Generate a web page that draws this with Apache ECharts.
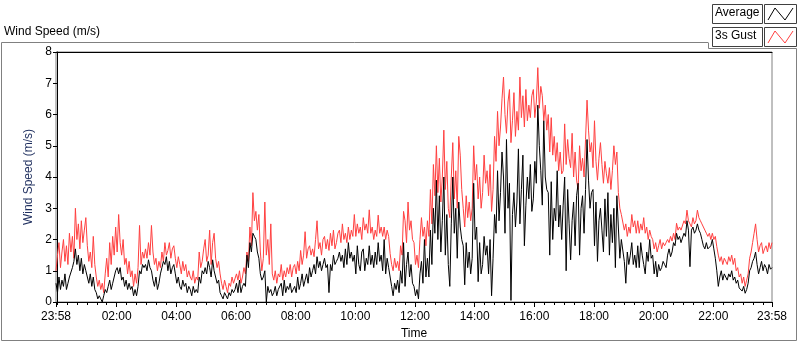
<!DOCTYPE html>
<html>
<head>
<meta charset="utf-8">
<script src="https://cdn.jsdelivr.net/npm/echarts@6/dist/echarts.min.js"></script>
<style>
  html, body { margin: 0; padding: 0; background: #fff; }
  #chart { width: 800px; height: 342px; }
</style>
</head>
<body>
<div id="chart"></div>
<script>
// 3s gust (red), one reading every 3 minutes from 23:58, 10 readings per half hour
const gust = [
  1.0, 1.5, 1.9, 1.1, 1.6, 2.0, 1.3, 1.8, 1.2, 2.2,
  1.6, 2.1, 1.4, 3.0, 2.0, 2.5, 1.7, 2.6, 1.9, 2.3,
  2.7, 1.8, 1.3, 1.6, 1.1, 2.1, 1.2, 0.8, 0.5, 0.7,
  0.4, 0.6, 0.3, 0.9, 1.4, 0.8, 1.9, 1.2, 2.1, 1.5,
  2.4, 1.6, 2.8, 1.9, 1.5, 2.0, 1.2, 1.4, 0.9, 1.3,
  0.8, 1.0, 0.5, 0.9, 0.6, 1.1, 2.45, 1.2, 1.6, 1.4,
  1.7, 1.4, 1.9, 1.5, 2.45, 1.6, 1.2, 1.4, 1.0, 1.3,
  1.1, 1.6, 1.3, 1.9, 1.5, 1.65, 1.9, 1.4, 1.7, 1.8,
  1.4, 1.1, 1.45, 1.2, 0.9, 1.3, 1.0, 1.2, 0.8, 1.0,
  0.8, 0.7, 1.0, 0.6, 0.8, 0.7, 1.6, 1.1, 1.3, 1.7,
  2.0, 1.3, 1.5, 2.3, 1.2, 1.9, 2.2, 1.4, 1.1, 1.3,
  0.9, 0.6, 0.4, 0.7, 0.5, 0.3, 0.6, 0.5, 0.8, 0.6,
  0.6, 0.9, 0.7, 1.0, 0.6, 0.8, 1.1, 0.9, 1.6, 1.3,
  2.4, 1.8, 3.5, 2.6, 2.9, 2.3, 2.8, 1.6, 1.0, 1.4,
  3.2, 1.5, 2.0, 1.2, 2.5, 0.9, 0.7, 1.0, 0.6, 0.9,
  0.8, 1.2, 0.7, 1.0, 0.8, 1.1, 0.9, 1.2, 0.8, 1.1,
  1.2, 0.9, 1.3, 1.0, 1.65, 1.2, 1.5, 2.25, 1.4, 1.7,
  1.8, 1.5, 1.7, 1.45, 2.0, 2.6, 1.7, 1.9, 1.5, 2.0,
  2.1, 1.7, 2.0, 1.65, 2.2, 1.8, 2.3, 1.7, 1.9, 2.2,
  2.3, 1.9, 2.5, 2.0, 2.2, 1.9, 2.4, 2.0, 2.3, 2.1,
  2.8, 2.1, 2.5, 2.2, 2.4, 2.0, 2.7, 2.3, 2.5, 2.2,
  2.95, 2.2, 2.4, 2.0, 2.3, 2.1, 2.78, 2.2, 2.4, 2.1,
  2.4, 2.0, 2.3, 2.1, 1.55, 1.2, 1.0, 1.4, 1.1, 1.3,
  1.0, 1.8, 1.5, 2.9, 2.6, 1.9, 3.2, 2.3, 2.6, 2.0,
  1.9, 1.2, 1.5, 1.1, 2.0, 2.7, 2.1, 2.4, 1.8, 2.6,
  2.1, 3.6, 2.5, 4.4, 3.4, 5.0, 3.5, 4.6, 3.2, 4.0,
  5.5, 3.6, 4.5, 3.0, 2.7, 4.0, 5.1, 3.3, 4.2, 3.0,
  5.3, 4.7, 3.6, 3.0, 2.4, 3.4, 2.7, 3.2, 2.6, 3.0,
  5.0, 3.9, 4.4, 3.3, 4.0, 3.0, 3.5, 4.7, 3.8, 4.2,
  3.4, 4.4, 2.9, 3.6, 5.3, 4.5, 6.1, 5.0, 5.6, 6.5,
  7.2, 6.0, 5.4, 6.4, 6.8, 5.1, 5.8, 6.7, 5.3, 6.1,
  5.5, 7.2, 5.9, 6.6, 5.6, 6.8, 5.8, 6.3, 5.9, 6.6,
  6.8, 5.9, 6.4, 7.5, 6.2, 6.9, 6.6, 5.8, 6.3, 5.5,
  6.0, 4.8, 5.9, 4.7, 5.3, 4.5, 5.1, 4.2, 4.8, 4.1,
  4.2, 5.7, 4.4, 5.2, 4.6, 4.3, 5.4, 4.0, 4.8, 3.9,
  3.6, 5.0, 4.2, 4.6, 4.0, 5.2, 6.46, 5.5, 4.8, 5.1,
  4.3, 5.8, 4.5, 3.9, 4.6, 5.1, 4.4, 3.8, 4.5, 4.1,
  3.8, 4.3, 3.6, 4.2, 5.0, 4.4, 4.8, 3.5, 3.0, 2.8,
  2.8, 2.3, 2.5, 2.1, 2.4, 2.2, 2.8, 2.4, 2.6, 2.2,
  2.6, 2.2, 2.5, 2.3, 2.7, 2.2, 2.4, 2.0, 2.3, 2.1,
  2.0, 1.7, 1.9, 1.6, 1.8, 2.0, 1.7, 1.9, 1.8, 1.9,
  2.0, 1.9, 2.1, 1.95, 2.2, 2.0, 2.52, 2.3, 2.4, 2.3,
  2.3, 2.6, 2.5, 2.94, 2.6, 2.5, 2.4, 2.7, 2.5, 2.6,
  2.94, 2.7, 2.6, 2.5, 2.4, 2.3, 2.2, 2.1, 2.2, 2.0,
  2.2, 2.0, 2.1, 1.77, 1.5, 1.3, 1.45, 1.2, 1.4, 1.3,
  1.2, 1.45, 1.3, 1.5, 1.2, 1.4, 1.0, 1.1, 0.8, 0.9,
  0.6, 0.8, 0.5, 0.7, 0.9, 1.4, 1.6, 1.9, 2.2, 2.5,
  2.0, 1.6, 1.8, 1.9, 1.55, 1.7, 1.8, 1.6, 1.9, 1.7,
  1.9
]

// average (black), same timestamps
const average = [
  0.6, 0.3, 0.8, 0.4, 0.7, 0.5, 0.9, 0.4, 0.6, 0.8,
  0.8, 1.1, 1.3, 1.7, 1.2, 1.5, 1.0, 1.4, 0.9, 1.2,
  1.0, 0.8, 0.6, 0.9, 0.5, 0.8, 0.4, 0.3, 0.1, 0.2,
  0.1, 0.0, 0.2, 0.4, 0.3, 0.5, 0.7, 0.4, 0.6, 0.8,
  1.0, 1.1, 0.9, 1.1, 0.7, 0.8, 0.5, 0.7, 0.4, 0.6,
  0.4, 0.5, 0.2, 0.4, 0.2, 0.5, 1.0, 0.9, 1.2, 1.1,
  1.2, 1.0, 1.35, 1.1, 1.0, 0.7, 0.5, 0.8, 0.4, 0.6,
  0.9, 1.1, 1.3, 1.2, 1.45, 1.0, 1.3, 0.9, 1.1, 1.2,
  0.9, 0.6, 0.8, 0.5, 0.4, 0.7, 0.5, 0.6, 0.3, 0.5,
  0.4, 0.2, 0.5, 0.3, 0.4, 0.3, 0.8, 0.6, 1.0, 0.9,
  1.1, 0.9, 1.3, 1.1, 0.8, 1.35, 1.0, 0.8, 0.6, 0.7,
  0.3, 0.2, 0.1, 0.3, 0.2, 0.1, 0.3, 0.2, 0.4, 0.3,
  0.4, 0.6, 0.3, 0.7, 0.3, 0.5, 0.6, 0.5, 1.5, 1.1,
  1.9, 1.6, 2.2, 2.1, 2.0, 1.6, 1.4, 0.9, 0.7, 0.8,
  1.0, 0.0, 0.5, 0.3, 0.4, 0.2, 0.3, 0.5, 0.2, 0.4,
  0.4, 0.6, 0.2, 0.7, 0.3, 0.5, 0.4, 0.6, 0.3, 0.4,
  0.5, 0.3, 0.8, 0.4, 0.6, 0.9, 0.5, 0.7, 0.9, 0.6,
  1.1, 0.8, 1.0, 1.2, 0.9, 1.45, 1.1, 1.3, 1.0, 1.2,
  1.4, 1.1, 1.2, 0.3, 1.2, 1.0, 1.5, 1.2, 1.3, 1.4,
  1.6, 1.3, 1.5, 1.1, 1.7, 1.2, 1.9, 1.4, 1.6, 1.3,
  1.5, 0.9, 1.8, 1.2, 1.0, 1.6, 1.7, 1.0, 1.4, 1.2,
  1.8, 1.2, 1.5, 1.1, 1.6, 1.2, 1.9, 1.3, 1.5, 1.0,
  2.0, 0.9, 1.4, 1.1, 0.8, 0.5, 0.2, 0.6, 0.4, 0.7,
  0.3, 1.0, 0.6, 1.9, 0.5, 1.2, 1.6, 0.8, 1.2, 0.6,
  0.5, 0.2, 0.4, 0.1, 0.9, 1.3, 0.6, 2.0, 0.8, 1.4,
  0.8, 2.3, 1.2, 3.0, 2.2, 3.9, 2.0, 3.4, 1.6, 2.6,
  4.0, 1.5, 2.8, 1.2, 0.5, 2.5, 4.0, 2.2, 3.0, 1.4,
  3.2, 2.4, 2.0, 1.8, 0.55, 1.9, 1.1, 1.6, 0.9, 1.4,
  3.8, 2.0, 2.4, 0.65, 1.9, 0.9, 1.2, 2.1, 1.5, 1.8,
  0.9, 2.0, 0.2, 1.4, 2.8, 2.2, 4.2, 2.6, 3.5, 4.8,
  4.0, 2.2, 5.2, 3.0, 3.8, 0.05, 2.8, 3.5, 2.4, 3.2,
  4.9, 2.5, 3.6, 4.7, 1.8, 3.1, 4.0, 3.3, 4.4, 2.9,
  3.3, 4.5, 3.8, 6.3, 5.0, 4.2, 3.1, 5.8, 4.0, 3.6,
  3.5, 1.5, 3.85, 2.0, 3.0, 2.6, 4.2, 2.4, 3.1, 2.0,
  3.1, 4.0, 1.0, 3.6, 2.5, 1.35, 2.6, 3.2, 1.8, 3.4,
  3.8, 1.5, 3.0, 3.4, 2.2, 3.6, 5.2, 3.9, 3.0, 3.5,
  3.6, 1.8, 3.2, 1.3, 2.6, 3.0, 2.3, 1.6, 3.3, 2.1,
  3.5, 1.5, 2.8, 1.9, 3.0, 1.1, 3.4, 2.4, 1.4, 2.0,
  2.0, 1.3, 0.6, 1.6, 1.2, 1.5, 1.9, 1.2, 1.5, 1.1,
  1.8, 1.1, 1.9, 1.5, 1.2, 0.9, 1.6, 1.3, 2.0, 1.4,
  1.5, 0.9, 1.3, 0.8, 1.2, 1.0, 1.1, 1.3, 1.2, 1.1,
  1.5, 1.7, 1.45, 1.6, 1.9, 1.8, 2.2, 2.0, 2.1, 1.9,
  1.9, 2.2, 2.1, 2.6, 2.3, 1.13, 2.3, 2.4, 2.2, 2.3,
  2.5, 2.3, 2.2, 2.0, 1.8, 1.7, 1.9, 1.7, 1.66, 1.8,
  2.0, 1.7, 1.4, 1.0, 0.5, 0.8, 1.0, 0.7, 0.9, 0.8,
  0.7, 0.9, 0.8, 1.0, 0.7, 0.8, 0.6, 0.7, 0.45, 0.5,
  0.35, 0.5, 0.28, 0.4, 0.6, 1.0, 1.1, 1.3, 1.4, 1.6,
  1.2, 0.9, 1.1, 1.3, 1.0, 1.2, 1.1, 0.9, 1.2, 1.05,
  1.1
]

// minutes relative to 00:00 (first reading at 23:58 the day before)
const times = gust.map((_, i) => i * 3 - 2)
const labelTimes = [-2, 120, 240, 360, 480, 600, 720, 840, 960, 1080, 1200, 1320, 1438]
const minorTicks = []
for (let m = 0; m < 1440; m += 20) minorTicks.push(m)

const fmt = v => {
  let m = ((Math.round(v) % 1440) + 1440) % 1440
  let h = Math.floor(m / 60)
  let mm = m % 60
  return (h < 10 ? '0' : '') + h + ':' + (mm < 10 ? '0' : '') + mm
}

let myChart = echarts.init(document.getElementById('chart'), null, { renderer: 'canvas' })
const font = 'Liberation Sans, Arial, sans-serif'

let options = {
  animation: false,
  backgroundColor: '#fff',
  textStyle: { fontFamily: font },
  grid: {
    left: 56, right: 28, top: 52, bottom: 40,
    outerBoundsMode: 'none',
    show: true, borderColor: '#808080', borderWidth: 1
  },
  xAxis: [
    {
      type: 'value', min: -2, max: 1438, position: 'bottom',
      name: 'Time', nameLocation: 'middle', nameGap: 24,
      nameTextStyle: { color: '#000', fontSize: 12, fontFamily: font },
      axisLine: { show: true, lineStyle: { color: '#000', width: 1 } },
      axisTick: { show: true, length: 5, customValues: labelTimes, lineStyle: { color: '#000' } },
      axisLabel: { customValues: labelTimes, formatter: fmt, color: '#000', fontSize: 12, margin: 9, fontFamily: font },
      splitLine: { show: false }
    },
    {
      type: 'value', min: -2, max: 1438, position: 'bottom',
      axisLine: { show: false },
      axisTick: { show: true, length: 3, customValues: minorTicks, lineStyle: { color: '#000' } },
      axisLabel: { show: false },
      splitLine: { show: false }
    },
    {
      type: 'value', min: -2, max: 1438, position: 'top',
      axisLine: { show: true, lineStyle: { color: '#000', width: 1 } },
      axisTick: { show: false }, axisLabel: { show: false }, splitLine: { show: false }
    }
  ],
  yAxis: [
    {
      type: 'value', min: 0, max: 8, interval: 1, position: 'left',
      name: 'Wind Speed (m/s)', nameLocation: 'middle', nameGap: 19, nameRotate: 90,
      nameTextStyle: { color: '#1f2f5f', fontSize: 12, fontFamily: font },
      axisLine: { show: true, lineStyle: { color: '#000', width: 1 } },
      axisTick: { show: true, length: 4, lineStyle: { color: '#000' } },
      axisLabel: { color: '#000', fontSize: 12, margin: 4, fontFamily: font },
      splitLine: { show: false }
    }
  ],
  series: [
    {
      name: '3s Gust', type: 'line', xAxisIndex: 0, yAxisIndex: 0,
      showSymbol: false, symbol: 'none',
      lineStyle: { color: '#ff4040', width: 1 },
      data: times.map((t, i) => [t, gust[i]])
    },
    {
      name: 'Average', type: 'line', xAxisIndex: 0, yAxisIndex: 0,
      showSymbol: false, symbol: 'none',
      lineStyle: { color: '#000', width: 1 },
      data: times.map((t, i) => [t, average[i]])
    }
  ],
  graphic: [
    // outer panel frame
    { type: 'polyline', shape: { points: [[708, 42.5], [1.5, 42.5], [1.5, 340.5], [796.5, 340.5], [796.5, 48.5], [708.5, 48.5], [708.5, 42.5]] },
      style: { stroke: '#808080', lineWidth: 1, fill: null }, silent: true },
    { type: 'text', left: 4, top: 26, style: { text: 'Wind Speed (m/s)', fill: '#000', font: '12px ' + font } },
    // legend plates
    { type: 'rect', shape: { x: 712.5, y: 4.5, width: 50, height: 19 }, style: { fill: '#fff', stroke: '#404040', lineWidth: 1 } },
    { type: 'rect', shape: { x: 764.5, y: 4.5, width: 32, height: 19 }, style: { fill: '#fff', stroke: '#404040', lineWidth: 1 } },
    { type: 'rect', shape: { x: 712.5, y: 27.5, width: 50, height: 19 }, style: { fill: '#fff', stroke: '#404040', lineWidth: 1 } },
    { type: 'rect', shape: { x: 764.5, y: 27.5, width: 32, height: 19 }, style: { fill: '#fff', stroke: '#404040', lineWidth: 1 } },
    { type: 'text', x: 715, y: 7, style: { text: 'Average', fill: '#000', font: '12px ' + font } },
    { type: 'text', x: 715, y: 30, style: { text: '3s Gust', fill: '#000', font: '12px ' + font } },
    { type: 'polyline', shape: { points: [[768, 20], [775, 8], [785, 20], [793, 8]] }, style: { stroke: '#000', lineWidth: 1, fill: null } },
    { type: 'polyline', shape: { points: [[768, 43], [775, 31], [785, 43], [793, 31]] }, style: { stroke: '#ff4040', lineWidth: 1, fill: null } }
  ]
}

myChart.setOption(options)
</script>
</body>
</html>
